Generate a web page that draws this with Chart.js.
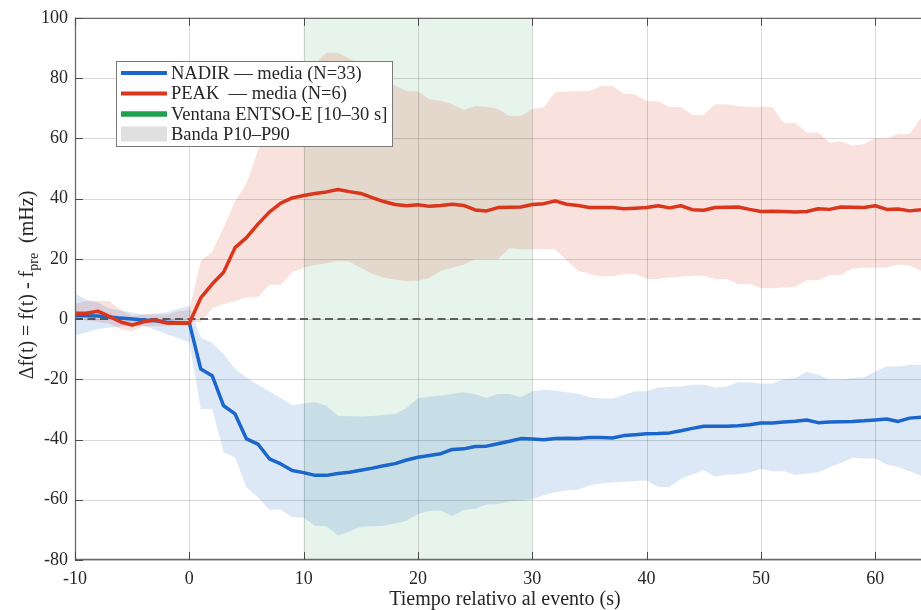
<!DOCTYPE html>
<html>
<head>
<meta charset="utf-8">
<script src="https://cdn.jsdelivr.net/npm/chart.js@4.4.1/dist/chart.umd.min.js"></script>
<style>
  html, body { margin: 0; padding: 0; background: #fff; }
  #wrap { width: 921px; height: 610px; position: relative; }
</style>
</head>
<body>
<div id="wrap"><canvas id="chart" width="921" height="610"></canvas></div>
<script>
// --- Data ---
const times = [-10, -9, -8, -7, -6, -5, -4, -3, -2, -1, 0, 1, 2, 3, 4, 5, 6, 7, 8, 9,
  10, 11, 12, 13, 14, 15, 16, 17, 18, 19, 20, 21, 22, 23, 24, 25, 26, 27, 28, 29,
  30, 31, 32, 33, 34, 35, 36, 37, 38, 39, 40, 41, 42, 43, 44, 45, 46, 47, 48, 49,
  50, 51, 52, 53, 54, 55, 56, 57, 58, 59, 60, 61, 62, 63, 64];

const nadirMean = [1.1, 1.1, 1.0, 0.7, 0.3, 0.0, -0.3, -0.6, -1.1, -1.2, -1.3, -16.6, -18.8, -28.8, -31.5, -39.8, -41.5, -46.4, -48.1, -50.3,
  -51.0, -51.9, -51.9, -51.3, -50.9, -50.2, -49.5, -48.7, -48.0, -46.8, -45.9, -45.3, -44.7, -43.3, -43.1, -42.3, -42.2, -41.4, -40.6, -39.7,
  -39.8, -40.1, -39.7, -39.6, -39.7, -39.3, -39.3, -39.5, -38.7, -38.4, -38.1, -38.0, -37.8, -37.1, -36.3, -35.6, -35.6, -35.6, -35.4, -35.1,
  -34.5, -34.5, -34.2, -33.9, -33.5, -34.4, -34.2, -34.1, -34.0, -33.8, -33.5, -33.2, -34.0, -32.9, -32.6];
const nadirP90 = [8.3, 6.5, 5.5, 3.5, 2.8, 2.2, 1.5, 1.8, 2.2, 3.3, 4.4, -6.1, -8.0, -11.6, -16.5, -19.5, -21.8, -24.0, -26.2, -28.6,
  -28.0, -27.6, -28.8, -32.1, -32.3, -32.4, -32.2, -31.8, -31.5, -29.5, -26.3, -25.8, -25.4, -24.8, -24.3, -25.0, -26.2, -24.9, -24.9, -26.0,
  -24.0, -23.5, -23.7, -24.3, -24.8, -26.0, -26.3, -26.5, -25.2, -24.0, -24.0, -22.7, -22.6, -22.4, -21.8, -21.8, -22.7, -22.5, -21.0, -21.0,
  -21.5, -21.4, -20.1, -19.6, -17.5, -18.5, -20.1, -20.1, -19.6, -19.3, -17.4, -15.8, -15.8, -15.3, -15.3];
const nadirP10 = [-5.5, -4.5, -3.3, -2.8, -2.5, -2.3, -2.2, -3.5, -5.0, -6.3, -7.7, -29.9, -29.9, -44.2, -46.0, -55.9, -59.2, -63.4, -63.2, -65.8,
  -66.0, -68.6, -68.8, -71.9, -70.5, -69.0, -68.8, -68.6, -67.9, -67.0, -64.7, -63.7, -63.6, -65.4, -63.4, -63.0, -61.6, -61.4, -60.5, -60.3,
  -59.8, -58.5, -57.5, -56.9, -56.6, -55.3, -54.6, -54.3, -54.0, -53.8, -53.6, -55.8, -55.8, -53.0, -51.6, -50.2, -52.4, -51.7, -51.6, -50.9,
  -49.8, -50.5, -50.5, -51.8, -51.3, -50.9, -49.2, -47.8, -46.0, -46.3, -46.3, -48.3, -49.1, -50.5, -52.0];

const peakMean = [1.9, 1.9, 2.6, 0.9, -1.0, -2.0, -0.9, -0.3, -1.3, -1.4, -1.4, 7.0, 11.6, 15.5, 23.7, 27.0, 31.5, 35.5, 38.5, 40.2,
  41.0, 41.7, 42.2, 43.0, 42.3, 41.7, 40.3, 39.0, 38.0, 37.6, 37.9, 37.4, 37.7, 38.1, 37.7, 36.2, 35.9, 37.0, 37.1, 37.2,
  38.0, 38.3, 39.2, 38.1, 37.7, 37.0, 37.0, 37.0, 36.6, 36.8, 37.0, 37.6, 36.9, 37.6, 36.3, 36.1, 37.0, 37.1, 37.2, 36.4,
  35.7, 35.8, 35.7, 35.5, 35.7, 36.6, 36.4, 37.2, 37.1, 37.0, 37.6, 36.4, 36.5, 35.9, 36.3];
const peakP90 = [5.0, 6.0, 6.0, 6.0, 3.0, 1.0, 1.5, 1.5, 1.5, 2.5, 3.0, 19.3, 22.3, 30.4, 39.2, 45.0, 56.0, 65.0, 72.0, 77.0,
  81.0, 85.0, 88.4, 88.4, 86.5, 84.5, 82.0, 79.6, 77.5, 75.7, 75.5, 73.0, 72.5, 71.3, 69.4, 70.7, 70.5, 69.7, 67.4, 67.4,
  69.7, 70.2, 75.3, 75.5, 75.6, 75.7, 77.4, 77.4, 74.8, 74.6, 72.4, 72.3, 70.4, 70.4, 67.8, 67.8, 71.3, 71.3, 70.6, 70.5,
  70.5, 70.4, 65.2, 65.2, 61.9, 61.9, 58.6, 59.0, 57.5, 58.0, 60.0, 60.0, 61.4, 61.4, 66.7];
const peakP10 = [0.5, -0.5, -1.0, -1.5, -3.5, -4.0, -2.5, -2.4, -2.2, -2.0, -1.0, -1.0, 3.6, 4.9, 6.0, 7.2, 7.2, 11.4, 11.4, 15.5,
  17.0, 18.0, 18.5, 19.3, 19.0, 17.0, 15.0, 13.8, 13.0, 12.5, 12.7, 13.6, 16.0, 17.0, 18.0, 19.9, 19.9, 19.9, 23.5, 23.2,
  23.2, 23.2, 23.2, 19.5, 16.0, 15.0, 14.1, 14.2, 14.9, 14.9, 13.3, 13.3, 13.8, 14.0, 14.4, 14.4, 13.3, 13.3, 11.6, 11.6,
  10.2, 10.2, 10.5, 10.7, 12.9, 12.9, 14.6, 14.6, 16.8, 17.0, 17.0, 17.1, 18.0, 17.8, 16.0];

const windowRange = [10, 30];
const xTicks = [-10, 0, 10, 20, 30, 40, 50, 60];
const yTicks = [-80, -60, -40, -20, 0, 20, 40, 60, 80, 100];
const legendLabels = ['NADIR \u2014 media (N=33)', 'PEAK  \u2014 media (N=6)', 'Ventana ENTSO-E [10\u201330 s]', 'Banda P10\u2013P90'];

// --- Styling ---
const SERIF = "'Liberation Serif', 'Times New Roman', serif";
const BLUE = '#1a66cc';
const RED = '#d9361c';
const GREEN = '#1fa04f';
const TXT = '#262626';

function pts(arr) {
    return times.map((t, i) => ({ x: t, y: arr[i] }));
}

const bandBase = { pointRadius: 0, borderWidth: 0, borderColor: 'transparent', tension: 0, order: 3 };

const framePlugin = {
    id: 'frame',
    beforeDatasetsDraw(chart) {
        const { ctx, chartArea: a, scales: { x } } = chart;
        const x0 = x.getPixelForValue(windowRange[0]);
        const x1 = x.getPixelForValue(windowRange[1]);
        ctx.save();
        ctx.fillStyle = 'rgba(20,150,70,0.1)';
        ctx.fillRect(x0, a.top, x1 - x0, a.bottom - a.top);
        ctx.restore();
    },
    beforeDatasetDraw(chart, args) {
        // grid and zero line go over the bands but under the mean lines
        if (chart.data.datasets[args.index].id !== 'nadirMean') return;
        const { ctx, chartArea: a, scales: { x, y } } = chart;
        ctx.save();
        ctx.strokeStyle = 'rgba(0,0,0,0.15)';
        ctx.lineWidth = 1;
        xTicks.forEach(v => {
            const px = Math.round(x.getPixelForValue(v)) + 0.5;
            ctx.beginPath(); ctx.moveTo(px, a.top); ctx.lineTo(px, a.bottom); ctx.stroke();
        });
        yTicks.forEach(v => {
            const py = Math.round(y.getPixelForValue(v)) + 0.5;
            ctx.beginPath(); ctx.moveTo(a.left, py); ctx.lineTo(a.right, py); ctx.stroke();
        });
        const y0 = y.getPixelForValue(0);
        ctx.strokeStyle = 'rgba(70,70,70,0.85)';
        ctx.lineWidth = 2;
        ctx.setLineDash([8, 4.5]);
        ctx.beginPath(); ctx.moveTo(a.left, y0); ctx.lineTo(a.right, y0); ctx.stroke();
        ctx.restore();
    },
    afterDraw(chart) {
        const { ctx, chartArea: a, scales: { x, y } } = chart;
        ctx.save();
        // axes box (right edge is outside the picture)
        ctx.strokeStyle = '#6a6a6a';
        ctx.lineWidth = 1.3;
        ctx.beginPath();
        ctx.moveTo(a.right, a.top + 0.5); ctx.lineTo(a.left + 0.5, a.top + 0.5);
        ctx.lineTo(a.left + 0.5, a.bottom - 0.5); ctx.lineTo(a.right, a.bottom - 0.5);
        ctx.stroke();
        // inward ticks
        ctx.strokeStyle = '#4a4a4a';
        ctx.lineWidth = 1;
        xTicks.forEach(v => {
            const px = Math.round(x.getPixelForValue(v)) + 0.5;
            ctx.beginPath(); ctx.moveTo(px, a.bottom); ctx.lineTo(px, a.bottom - 8); ctx.stroke();
            ctx.beginPath(); ctx.moveTo(px, a.top); ctx.lineTo(px, a.top + 8); ctx.stroke();
        });
        yTicks.forEach(v => {
            const py = Math.round(y.getPixelForValue(v)) + 0.5;
            ctx.beginPath(); ctx.moveTo(a.left, py); ctx.lineTo(a.left + 8, py); ctx.stroke();
        });

        // legend
        const lx = 116.5, ly = 61.5, lw = 276, lh = 85;
        ctx.fillStyle = '#ffffff';
        ctx.fillRect(lx, ly, lw, lh);
        ctx.strokeStyle = '#7a7a7a';
        ctx.lineWidth = 1;
        ctx.strokeRect(lx, ly, lw, lh);
        const rowY = [73, 93.5, 114, 134];
        const sx0 = 121, sx1 = 167;
        ctx.lineCap = 'butt';
        [[BLUE, 4], [RED, 4], [GREEN, 5.5]].forEach((s, i) => {
            ctx.strokeStyle = s[0]; ctx.lineWidth = s[1];
            ctx.beginPath(); ctx.moveTo(sx0, rowY[i]); ctx.lineTo(sx1, rowY[i]); ctx.stroke();
        });
        ctx.fillStyle = '#e0e0e0';
        ctx.fillRect(sx0, rowY[3] - 7.5, sx1 - sx0, 15);
        ctx.fillStyle = TXT;
        ctx.font = '18.5px ' + SERIF;
        ctx.textBaseline = 'middle';
        ctx.textAlign = 'left';
        legendLabels.forEach((t, i) => ctx.fillText(t, 171, rowY[i] + 1));

        // x axis title
        ctx.font = '20px ' + SERIF;
        ctx.textAlign = 'center';
        ctx.textBaseline = 'alphabetic';
        ctx.fillText('Tiempo relativo al evento (s)', 505, 605);

        // y axis title with subscript
        const parts = [['\u0394f(t) = f(t) - f', 20, 0], ['pre', 14, 5], ['  (mHz)', 20, 0]];
        const widths = parts.map(p => { ctx.font = p[1] + 'px ' + SERIF; return ctx.measureText(p[0]).width; });
        const total = widths.reduce((s, w) => s + w, 0);
        ctx.translate(33, 285);
        ctx.rotate(-Math.PI / 2);
        ctx.textAlign = 'left';
        let cx = -total / 2;
        parts.forEach((p, i) => {
            ctx.font = p[1] + 'px ' + SERIF;
            ctx.fillText(p[0], cx, p[2]);
            cx += widths[i];
        });
        ctx.restore();
    }
};

new Chart(document.getElementById('chart').getContext('2d'), {
    type: 'line',
    data: {
        datasets: [
            Object.assign({ id: 'nadirLo', data: pts(nadirP10), fill: false }, bandBase),
            Object.assign({ id: 'nadirHi', data: pts(nadirP90), fill: '-1', backgroundColor: 'rgba(26,102,204,0.15)' }, bandBase),
            Object.assign({ id: 'peakLo', data: pts(peakP10), fill: false }, bandBase),
            Object.assign({ id: 'peakHi', data: pts(peakP90), fill: '-1', backgroundColor: 'rgba(217,54,28,0.15)' }, bandBase),
            { id: 'nadirMean', data: pts(nadirMean), borderColor: BLUE, borderWidth: 3.5, pointRadius: 0, fill: false, tension: 0, order: 1, borderJoinStyle: 'round' },
            { id: 'peakMean', data: pts(peakMean), borderColor: RED, borderWidth: 3.5, pointRadius: 0, fill: false, tension: 0, order: 0, borderJoinStyle: 'round' }
        ]
    },
    options: {
        responsive: false,
        animation: false,
        events: [],
        layout: { padding: { top: 17, right: 0, left: 0, bottom: 0 } },
        plugins: { legend: { display: false }, tooltip: { enabled: false } },
        scales: {
            x: {
                type: 'linear', min: -10, max: 64,
                afterBuildTicks: s => { s.ticks = xTicks.map(v => ({ value: v })); },
                afterFit: s => { s.height = 50; },
                grid: { display: false, drawTicks: false },
                border: { display: false },
                ticks: { font: { family: SERIF, size: 18 }, color: TXT, padding: 8, maxRotation: 0 }
            },
            y: {
                min: -80, max: 100,
                afterBuildTicks: s => { s.ticks = yTicks.map(v => ({ value: v })); },
                afterFit: s => { s.width = 75; },
                grid: { display: false, drawTicks: false },
                border: { display: false },
                ticks: { font: { family: SERIF, size: 18 }, color: TXT, padding: 7 }
            }
        }
    },
    plugins: [framePlugin]
});
</script>
</body>
</html>
